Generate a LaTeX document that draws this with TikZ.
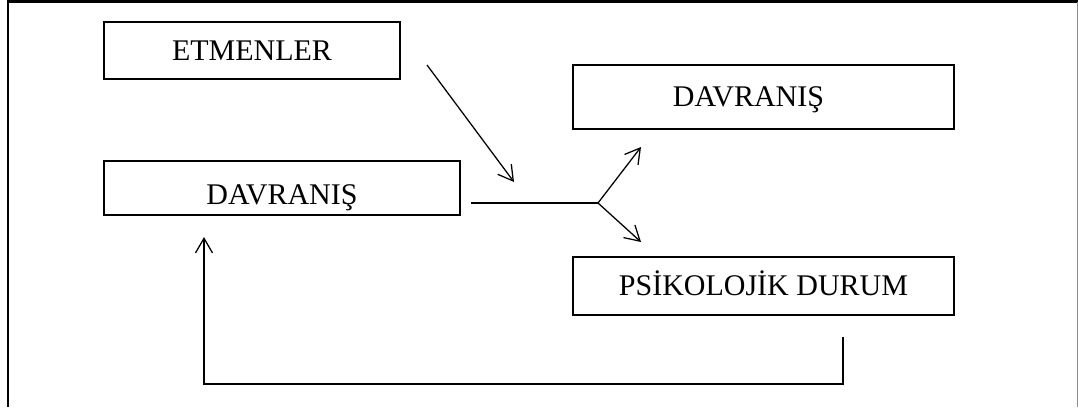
\documentclass[tikz,border=0pt]{standalone}
\usepackage{fontspec}
\setmainfont{Liberation Serif}
\usetikzlibrary{arrows.meta}

\begin{document}
\begin{tikzpicture}[
    x=0.75pt, y=-0.75pt,
    box/.style={draw, line width=1.5pt, inner sep=0pt, anchor=north west,
      font=\fontsize{22.5}{27}\selectfont, text height=14.9pt, text depth=0pt},
    flow/.style={line width=0.95pt, -{Straight Barb[length=11pt,width=12.75pt,line width=0.95pt]}},
    plain/.style={line width=0.95pt},
    frame/.style={line width=1.5pt}
  ]
  \useasboundingbox (0,0) rectangle (1078,407);

  % outer frame (open at the bottom)
  \coordinate (fbl) at (8,407);
  \coordinate (ftl) at (8,1.5);
  \coordinate (ftr) at (1078,1.5);
  \draw[frame] (fbl) -- (ftl) -- (ftr);
  \draw[line width=0.5pt, black!45] (1077,1.5) -- (1077,407);

  % boxes
  \node[box, minimum width=296*0.75pt, minimum height=57*0.75pt] (etm) at (103,21) {ETMENLER};
  \node[box, minimum width=356*0.75pt, minimum height=54*0.75pt, text height=25.4pt] (dav1) at (103,160) {DAVRANIŞ};
  \node[box, minimum width=381*0.75pt, minimum height=64*0.75pt] (dav2) at (572,64) {DAVRANIŞ\hspace*{22.5pt}};
  \node[box, minimum width=381*0.75pt, minimum height=58*0.75pt] (psi) at (572,256) {PSİKOLOJİK DURUM};

  % influence of the factors
  \coordinate (e1) at (427,65);
  \coordinate (e2) at (514,182);
  \draw[flow] (e1) -- (e2);

  % behaviour splits into behaviour and psychological state
  \coordinate (h1) at ([xshift=10*0.75pt]dav1.east |- 0,203);
  \coordinate (split) at (598,203);
  \coordinate (up) at (641,147);
  \coordinate (down) at (641,242);
  \draw[plain] (h1) -- (split);
  \draw[flow] (split) -- (up);
  \draw[flow] (split) -- (down);

  % feedback loop back to behaviour
  \coordinate (b1) at (843,337);
  \coordinate (b2) at (843,384);
  \coordinate (b3) at (204,384);
  \coordinate (b4) at (204,237);
  \draw[flow] (b1) -- (b2) -- (b3) -- (b4);
\end{tikzpicture}
\end{document}
